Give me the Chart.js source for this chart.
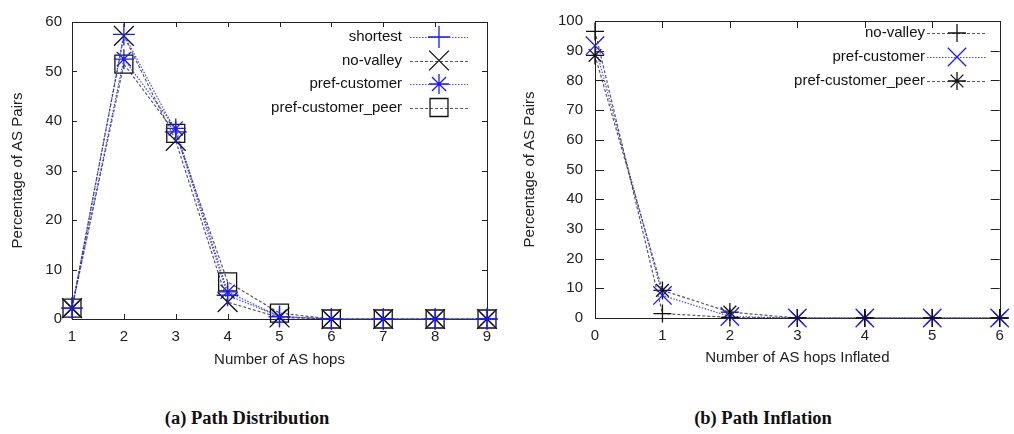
<!DOCTYPE html>
<html><head><meta charset="utf-8">
<script src="https://cdn.jsdelivr.net/npm/chart.js@4/dist/chart.umd.min.js"></script>
<style>
html,body{margin:0;padding:0;background:#fff;}
body{width:1014px;height:434px;position:relative;overflow:hidden;}
#wa{position:absolute;left:0;top:0;width:510px;height:380px;}
#wb{position:absolute;left:510px;top:0;width:504px;height:380px;}
.cap{position:absolute;top:407px;font-family:"Liberation Serif","Times New Roman",serif;font-weight:bold;font-size:18.5px;color:#111;text-align:center;width:300px;line-height:22px;}
</style></head><body>
<div id="wa"><canvas id="ca"></canvas></div>
<div id="wb"><canvas id="cb"></canvas></div>
<div class="cap" style="left:97px">(a) Path Distribution</div>
<div class="cap" style="left:613px">(b) Path Inflation</div>
<script>
// ---- data: (a) Path Distribution ----
const hopsA = [1,2,3,4,5,6,7,8,9];
const shortestA = [2.2,57.5,37.8,4.8,0.5,0,0,0,0];
const noValleyA = [2.2,57.2,36.0,3.4,0.3,0,0,0,0];
const prefCustA = [2.2,52.5,38.5,5.5,0.5,0,0,0,0];
const prefPeerA = [2.2,51.5,37.5,7.5,1.2,0,0,0,0];
const yTicksA = [0,10,20,30,40,50,60];
const labelsA = ['shortest','no-valley','pref-customer','pref-customer_peer'];

// ---- data: (b) Path Inflation ----
const hopsB = [0,1,2,3,4,5,6];
const noValleyB = [96.5,1.5,0.2,0,0,0,0];
const prefCustB = [91.7,7.6,0.5,0,0,0,0];
const prefPeerB = [88.4,9.3,2.0,0,0,0,0];
const yTicksB = [0,10,20,30,40,50,60,70,80,90,100];
const labelsB = ['no-valley','pref-customer','pref-customer_peer'];

const FONT = '"Liberation Sans", Arial, sans-serif';
const BLUE = '#1a1aff', BLUE_LINE = 'rgba(40,40,255,0.85)';
const BLACK = '#111', GRAY_LINE = 'rgba(60,60,60,0.85)';

function pts(xs, ys){ return xs.map((x,i)=>({x:x,y:ys[i]})); }

function ds(label, xs, ys, blue, style, r){
  return {
    label: label, data: pts(xs, ys),
    borderColor: blue ? BLUE_LINE : GRAY_LINE,
    borderWidth: 1.2,
    borderDash: blue ? [1.5,1.5] : [3,2],
    pointStyle: style, pointRadius: r, pointHoverRadius: r,
    pointBorderColor: blue ? BLUE : BLACK,
    pointBackgroundColor: 'rgba(0,0,0,0)',
    pointBorderWidth: 1.3,
    tension: 0, clip: false, fill: false
  };
}

const frame = {
  id: 'frame',
  beforeDatasetsDraw(chart, args, o){
    const a = chart.chartArea, ctx = chart.ctx;
    ctx.save();
    ctx.strokeStyle = '#222'; ctx.lineWidth = 1;
    ctx.strokeRect(Math.round(a.left)+0.5, Math.round(a.top)+0.5, Math.round(a.right-a.left), Math.round(a.bottom-a.top));
    const xs = chart.scales.x, ys = chart.scales.y;
    ctx.beginPath();
    xs.ticks.forEach(t=>{
      const px = Math.round(xs.getPixelForValue(t.value))+0.5;
      ctx.moveTo(px, a.bottom); ctx.lineTo(px, a.bottom - o.tx);
      ctx.moveTo(px, a.top); ctx.lineTo(px, a.top + o.tx);
    });
    ys.ticks.forEach(t=>{
      const py = Math.round(ys.getPixelForValue(t.value))+0.5;
      ctx.moveTo(a.left, py); ctx.lineTo(a.left + o.ty, py);
      ctx.moveTo(a.right, py); ctx.lineTo(a.right - o.ty, py);
    });
    ctx.stroke();
    ctx.restore();
  }
};

const gLegend = {
  id: 'gLegend',
  afterDraw(chart, args, o){
    const ctx = chart.ctx;
    ctx.save();
    ctx.font = '15px ' + FONT;
    ctx.textAlign = 'right'; ctx.textBaseline = 'middle';
    chart.data.datasets.forEach((d,i)=>{
      const y = o.y0 + i*o.dy;
      ctx.fillStyle = '#111';
      ctx.fillText(d.label, o.textRight, y);
      ctx.save();
      ctx.strokeStyle = d.borderColor; ctx.lineWidth = d.borderWidth;
      ctx.setLineDash(d.borderDash);
      ctx.beginPath(); ctx.moveTo(o.x1, Math.round(y)+0.5); ctx.lineTo(o.x2, Math.round(y)+0.5); ctx.stroke();
      ctx.restore();
      ctx.save();
      ctx.strokeStyle = d.pointBorderColor; ctx.fillStyle = 'rgba(0,0,0,0)';
      ctx.lineWidth = d.pointBorderWidth;
      Chart.helpers.drawPoint(ctx, {pointStyle: d.pointStyle, radius: d.pointRadius, rotation: 0, borderWidth: d.pointBorderWidth}, (o.x1+o.x2)/2, y);
      ctx.restore();
    });
    ctx.restore();
  }
};

function makeChart(id, xs, datasets, yTicks, xMin, xMax, yMax, xTitle, geo){
  return new Chart(document.getElementById(id), {
    type: 'line',
    data: { datasets: datasets },
    plugins: [frame, gLegend],
    options: {
      responsive: true, maintainAspectRatio: false, animation: false,
      events: [],
      layout: { padding: { left: 0, top: geo.top, right: geo.right, bottom: 0 } },
      plugins: { legend: {display:false}, tooltip: {enabled:false},
        frame: { tx: geo.tx, ty: geo.ty },
        gLegend: geo.legend },
      scales: {
        x: {
          type: 'linear', min: xMin, max: xMax,
          afterBuildTicks(s){ s.ticks = xs.map(v=>({value:v})); },
          grid: {display:false, drawTicks:false}, border: {display:false},
          ticks: { color:'#222', font:{family:FONT, size:15}, padding: 9, maxRotation:0, autoSkip:false },
          title: { display:true, text:xTitle, color:'#222', font:{family:FONT, size:15}, padding:{top:4, bottom: geo.xtPad} },
          afterFit(s){ s.height = geo.xh; }
        },
        y: {
          type: 'linear', min: 0, max: yMax,
          afterBuildTicks(s){ s.ticks = yTicks.map(v=>({value:v})); },
          grid: {display:false, drawTicks:false}, border: {display:false},
          ticks: { color:'#222', font:{family:FONT, size:15}, padding: geo.ytickPad },
          title: { display:true, text:'Percentage of AS Pairs', color:'#222', font:{family:FONT, size:15}, padding:{top: geo.ytPad, bottom:0} },
          afterFit(s){ s.width = geo.yw; }
        }
      }
    }
  });
}

makeChart('ca', hopsA, [
  ds(labelsA[0], hopsA, shortestA, true, 'cross', 11),
  ds(labelsA[1], hopsA, noValleyA, false, 'crossRot', 14),
  ds(labelsA[2], hopsA, prefCustA, true, 'star', 10),
  ds(labelsA[3], hopsA, prefPeerA, false, 'rect', 12.7)
], yTicksA, 1, 9, 60, 'Number of AS hops', {
  top: 22, right: 23, yw: 72, xh: 61, xtPad: 11, ytPad: 9, ytickPad: 10, tx: 5, ty: 5,
  legend: { textRight: 402, x1: 410, x2: 468, y0: 37, dy: 23.5 }
});

makeChart('cb', hopsB, [
  ds(labelsB[0], hopsB, noValleyB, false, 'cross', 9),
  ds(labelsB[1], hopsB, prefCustB, true, 'crossRot', 13),
  ds(labelsB[2], hopsB, prefPeerB, false, 'star', 9)
], yTicksB, 0, 6, 100, 'Number of AS hops Inflated', {
  top: 17, right: 9, yw: 85, xh: 62, xtPad: 13, ytPad: 11, ytickPad: 12, tx: 7, ty: 9,
  legend: { textRight: 415, x1: 417, x2: 477, y0: 33, dy: 24 }
});
</script>
</body></html>
